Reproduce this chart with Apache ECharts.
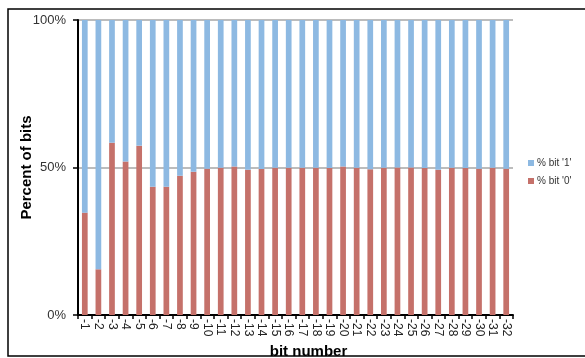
<!DOCTYPE html>
<html>
<head>
<meta charset="utf-8">
<script src="https://cdn.jsdelivr.net/npm/echarts@6/dist/echarts.min.js"></script>
<style>
html,body{margin:0;padding:0;background:#fff;}
#c{width:585px;height:358px;}
</style>
</head>
<body>
<div id="c"></div>
<script>
var categories = ['-1','-2','-3','-4','-5','-6','-7','-8','-9','-10','-11','-12','-13','-14','-15','-16','-17','-18','-19','-20','-21','-22','-23','-24','-25','-26','-27','-28','-29','-30','-31','-32'];
var bit0 = [34.7,15.5,58.4,52.0,57.4,43.5,43.5,47.2,48.6,49.6,49.9,50.3,49.2,49.5,49.9,49.9,49.9,49.9,49.8,50.3,49.9,49.4,49.9,50.0,50.0,49.8,49.2,49.9,49.8,49.6,49.9,49.6];
var bit1 = bit0.map(function(v){ return +(100 - v).toFixed(1); });
var yTicks = [0, 50, 100];
var seriesNames = ["% bit '1'", "% bit '0'"];

var chart = echarts.init(document.getElementById('c'));
chart.setOption({
  animation: false,
  backgroundColor: '#fff',
  textStyle: { fontFamily: 'Liberation Sans, Arial, sans-serif' },
  graphic: [{
    type: 'rect',
    shape: { x: 8, y: 9, width: 590, height: 347 },
    style: { fill: 'none', stroke: '#000', lineWidth: 1.5 },
    silent: true
  }],
  grid: { left: 78, right: 72, top: 20, bottom: 43, containLabel: false, outerBoundsMode: 'none' },
  legend: {
    orient: 'vertical',
    left: 523,
    top: 153,
    itemWidth: 6,
    itemHeight: 6,
    itemGap: 8,
    icon: 'rect',
    data: seriesNames,
    textStyle: { fontSize: 10, color: '#333', padding: [0, 0, 0, -2] }
  },
  xAxis: {
    type: 'category',
    data: categories,
    name: 'bit number',
    nameLocation: 'middle',
    nameGap: 27,
    nameTextStyle: { fontSize: 15, fontWeight: 'bold', color: '#000', padding: [0, 0, 0, 26] },
    axisLine: { lineStyle: { color: '#000', width: 2 } },
    axisTick: { show: true, alignWithLabel: false, length: 4, lineStyle: { color: '#000', width: 1.5 } },
    axisLabel: { rotate: -90, fontSize: 12, color: '#222', margin: 4, interval: 0 }
  },
  yAxis: {
    type: 'value',
    min: yTicks[0],
    max: yTicks[yTicks.length - 1],
    interval: 50,
    name: 'Percent of bits',
    nameLocation: 'middle',
    nameGap: 44,
    nameMoveOverlap: false,
    nameTextStyle: { fontSize: 15, fontWeight: 'bold', color: '#000' },
    axisLine: { show: true, lineStyle: { color: '#000', width: 2 } },
    axisTick: { show: true, length: 5, lineStyle: { color: '#000', width: 1.5 } },
    axisLabel: { formatter: '{value}%', fontSize: 13, color: '#333', margin: 12 },
    splitLine: { show: true, lineStyle: { color: '#a6a6a6', width: 1.5 } }
  },
  series: [
    {
      name: seriesNames[1],
      type: 'bar',
      stack: 'bits',
      barWidth: '42%',
      data: bit0,
      itemStyle: { color: '#C5716A' }
    },
    {
      name: seriesNames[0],
      type: 'bar',
      stack: 'bits',
      barWidth: '42%',
      data: bit1,
      itemStyle: { color: '#8DB9E2' }
    }
  ]
});
</script>
</body>
</html>
